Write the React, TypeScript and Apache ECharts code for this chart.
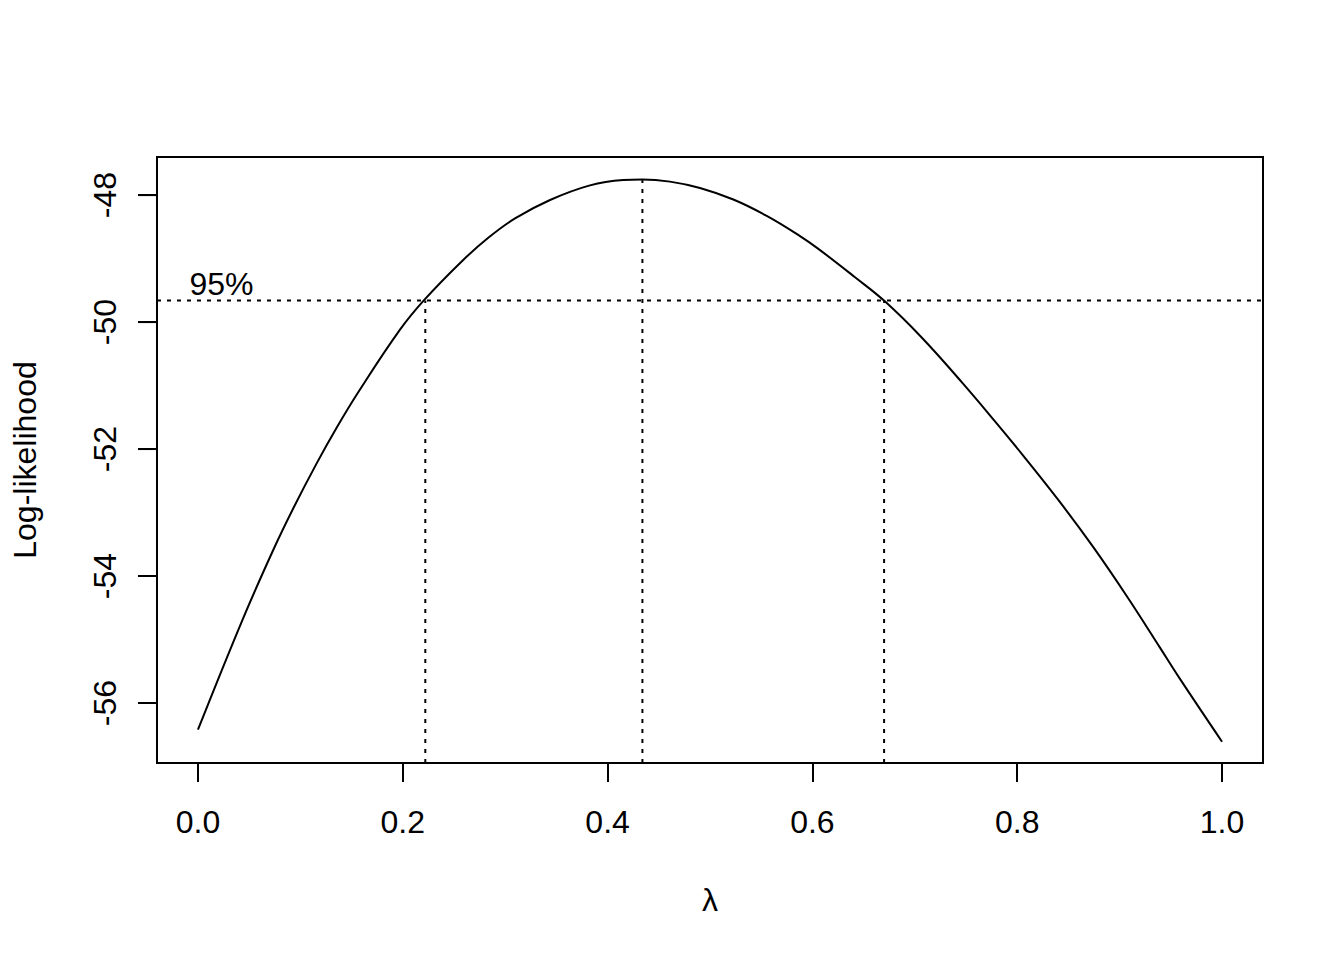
import React, { useEffect, useRef } from "react";
import * as echarts from "echarts";

// Profile log-likelihood (lambda, log-likelihood)
const lambdaValues = [
  0, 0.0437, 0.0735, 0.0931, 0.1159, 0.1354, 0.1565, 0.1973, 0.221, 0.2575, 0.2835, 0.3096,
  0.3438, 0.3828, 0.4153, 0.434, 0.4609, 0.4902, 0.5228, 0.5554, 0.5879, 0.6058, 0.6416,
  0.6702, 0.7067, 0.7458, 0.7783, 0.806, 0.8418, 0.8743, 0.9069, 0.9394, 0.9573, 1.0,
];
const logLikValues = [
  -56.42, -54.681, -53.59, -52.933, -52.226, -51.664, -51.105, -50.12, -49.651, -49.045, -48.673,
  -48.368, -48.077, -47.847, -47.762, -47.753, -47.788, -47.888, -48.07, -48.328, -48.646, -48.847,
  -49.294, -49.666, -50.243, -50.946, -51.564, -52.107, -52.837, -53.546, -54.315, -55.128,
  -55.581, -56.61,
];

const xTicks = [0, 0.2, 0.4, 0.6, 0.8, 1.0];
const yTicks = [-56, -54, -52, -50, -48];

const lambdaHat = 0.434;
const maxLogLik = -47.753;
const ciLower = 0.222;
const ciUpper = 0.67;
const threshold = -49.66;
const ciLabel = "95%";
const ciLabelLambda = 0.023;

const xMin = -0.04;
const xMax = 1.04;
const yMin = -56.945;
const yMax = -47.4;

const FONT = "'Liberation Sans', Arial, Helvetica, sans-serif";
const TICK_PX = 19;

export default function App() {
  const ref = useRef<HTMLDivElement>(null);
  useEffect(() => {
    if (!ref.current) return;
    const chart = echarts.init(ref.current, undefined, { renderer: "svg" });
    const dotted = { color: "#000", width: 2, type: [4, 6] as number[] };
    const curve = lambdaValues.map((l, i) => [l, logLikValues[i]]);
    const option: any = {
      animation: false,
      backgroundColor: "#fff",
      grid: {
        show: true,
        left: 157,
        top: 157,
        width: 1106,
        height: 606,
        borderColor: "#000",
        borderWidth: 2,
      },
      xAxis: {
        type: "value",
        min: xMin,
        max: xMax,
        name: "λ",
        nameLocation: "middle",
        nameGap: 121,
        nameTextStyle: { fontSize: 32, color: "#000", fontFamily: FONT },
        axisLine: { show: true, onZero: false, lineStyle: { color: "#000", width: 2 } },
        splitLine: { show: false },
        axisTick: {
          show: true,
          length: TICK_PX,
          customValues: xTicks,
          lineStyle: { color: "#000", width: 2 },
        },
        axisLabel: {
          customValues: xTicks,
          margin: 43,
          fontSize: 32,
          color: "#000",
          fontFamily: FONT,
          formatter: (v: number) => v.toFixed(1),
        },
      },
      yAxis: {
        type: "value",
        min: yMin,
        max: yMax,
        name: "Log-likelihood",
        nameLocation: "middle",
        nameRotate: 90,
        nameGap: 116,
        nameTextStyle: { fontSize: 32, color: "#000", fontFamily: FONT },
        axisLine: { show: true, onZero: false, lineStyle: { color: "#000", width: 2 } },
        splitLine: { show: false },
        axisTick: {
          show: true,
          length: TICK_PX,
          customValues: yTicks,
          lineStyle: { color: "#000", width: 2 },
        },
        axisLabel: {
          customValues: yTicks,
          rotate: 90,
          margin: 36,
          fontSize: 32,
          color: "#000",
          fontFamily: FONT,
          formatter: (v: number) => String(Math.round(v)),
        },
      },
      series: [
        {
          type: "line",
          data: curve,
          showSymbol: false,
          smooth: 0.4,
          lineStyle: { color: "#000", width: 2 },
          silent: true,
        },
        {
          type: "line",
          data: [[xMin, threshold], [xMax, threshold]],
          showSymbol: false,
          lineStyle: dotted,
          silent: true,
        },
        {
          type: "line",
          data: [[ciLower, yMin], [ciLower, threshold]],
          showSymbol: false,
          lineStyle: dotted,
          silent: true,
        },
        {
          type: "line",
          data: [[lambdaHat, yMin], [lambdaHat, maxLogLik]],
          showSymbol: false,
          lineStyle: dotted,
          silent: true,
        },
        {
          type: "line",
          data: [[ciUpper, yMin], [ciUpper, threshold]],
          showSymbol: false,
          lineStyle: dotted,
          silent: true,
        },
        {
          type: "scatter",
          data: [[ciLabelLambda, threshold]],
          symbolSize: 0,
          silent: true,
          itemStyle: { opacity: 1, color: "#000" },
          label: {
            show: true,
            position: "top",
            distance: 0,
            formatter: ciLabel,
            fontSize: 32,
            color: "#000",
            opacity: 1,
            fontFamily: FONT,
          },
        },
      ],
    };
    chart.setOption(option);

    // y-axis ticks placed through the chart's own scales, drawn on top
    const x0 = chart.convertToPixel({ xAxisIndex: 0 }, xMin) as number;
    const tickGraphics = yTicks.map((v) => {
      const py = chart.convertToPixel({ yAxisIndex: 0 }, v) as number;
      return {
        type: "line",
        z: 100,
        zlevel: 0,
        silent: true,
        shape: { x1: x0 - TICK_PX, y1: py, x2: x0, y2: py },
        style: { stroke: "#000", lineWidth: 2 },
      };
    });
    chart.setOption({ graphic: tickGraphics });

    return () => chart.dispose();
  }, []);
  return (
    <div
      ref={ref}
      style={{ position: "fixed", left: 0, top: 0, width: 1344, height: 960, background: "#fff" }}
    />
  );
}
